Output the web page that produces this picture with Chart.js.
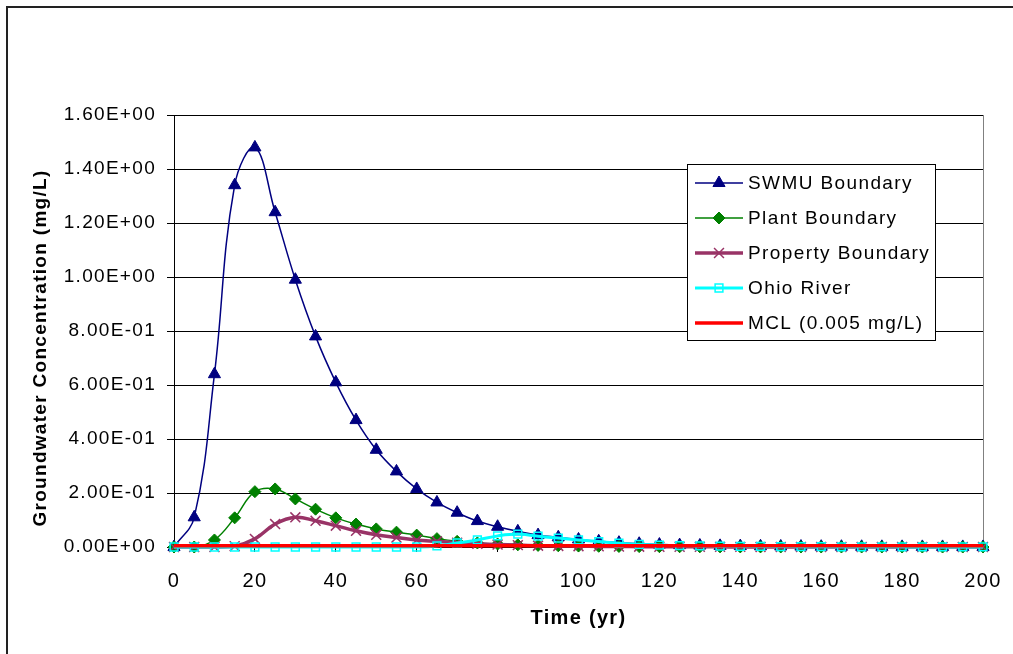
<!DOCTYPE html>
<html>
<head>
<meta charset="utf-8">
<script src="https://cdn.jsdelivr.net/npm/chart.js@4/dist/chart.umd.min.js"></script>
<style>
  html, body { margin: 0; padding: 0; background: #fff; }
  #wrap { position: relative; width: 1013px; height: 654px; }
</style>
</head>
<body>
<div id="wrap"><canvas id="grafico" width="1013" height="654"></canvas></div>
<script>
// time (yr)
const tiempos = [0, 5, 10, 15, 20, 25, 30, 35, 40, 45, 50, 55, 60, 65, 70, 75, 80, 85, 90, 95, 100,
    105, 110, 115, 120, 125, 130, 135, 140, 145, 150, 155, 160, 165, 170, 175, 180, 185, 190, 195, 200];

const swmu = [0, 0.11, 0.64, 1.34, 1.48, 1.24, 0.99, 0.78, 0.61, 0.47, 0.36, 0.28, 0.215, 0.165, 0.127, 0.096,
    0.075, 0.058, 0.044, 0.036, 0.028, 0.021, 0.016, 0.012, 0.009, 0.007, 0.0055, 0.0042, 0.0033, 0.0026,
    0.002, 0.0016, 0.0012, 0.001, 0.0008, 0.0006, 0.0005, 0.0004, 0.0003, 0.0003, 0.0002];
const plant = [0, 0, 0.026, 0.108, 0.205, 0.215, 0.178, 0.14, 0.108, 0.085, 0.067, 0.055, 0.044, 0.031, 0.021,
    0.015, 0.011, 0.008, 0.006, 0.0045, 0.0035, 0.0027, 0.002, 0.0015, 0.0012, 0.0009, 0.0007, 0.0005, 0.0004,
    0.0003, 0.0002, 0.0002, 0.0001, 0.0001, 0.0001, 0.0001, 0, 0, 0, 0, 0];
const property = [0, 0, 0, 0.003, 0.03, 0.085, 0.11, 0.097, 0.079, 0.06, 0.045, 0.035, 0.026, 0.021, 0.016,
    0.012, 0.009, 0.007, 0.005, 0.004, 0.003, 0.0023, 0.0017, 0.0013, 0.001, 0.0008, 0.0006, 0.0005, 0.0004,
    0.0003, 0.0002, 0.0002, 0.0001, 0.0001, 0.0001, 0, 0, 0, 0, 0, 0];
const ohio = [0, 0, 0, 0, 0, 0, 0, 0, 0, 0, 0, 0, 0, 0.004, 0.015, 0.026, 0.041, 0.048, 0.04, 0.033, 0.026,
    0.02, 0.014, 0.01, 0.007, 0.005, 0.004, 0.003, 0.0025, 0.002, 0.0016, 0.0013, 0.001, 0.0008, 0.0007,
    0.0006, 0.0005, 0.0004, 0.0003, 0.0003, 0.0002];
// MCL is a flat reference line
const mclTiempos = [0, 200];
const mcl = [0.005, 0.005];

const yTicks = [0, 0.2, 0.4, 0.6, 0.8, 1.0, 1.2, 1.4, 1.6];
const xTicks = [0, 20, 40, 60, 80, 100, 120, 140, 160, 180, 200];
const tituloY = 'Groundwater Concentration (mg/L)';

const puntos = (xs, ys) => xs.map((x, i) => ({ x: x, y: ys[i] }));

const formatoExp = v => {
    if (Math.abs(v) < 1e-12) return '0.00E+00';
    let e = Math.floor(Math.log10(Math.abs(v)) + 1e-9);
    let m = v / Math.pow(10, e);
    if (Math.abs(m) >= 9.995) { m = m / 10; e++; }
    const signo = e < 0 ? '-' : '+';
    return m.toFixed(2) + 'E' + signo + String(Math.abs(e)).padStart(2, '0');
}

Chart.defaults.font.family = '"Liberation Sans", Arial, sans-serif';
Chart.defaults.color = '#000';

// marco exterior, borde derecho del area de trazado y titulo del eje Y
const marco = {
    id: 'marco',
    beforeDraw(chart) {
        const ctx = chart.ctx;
        ctx.save();
        ctx.fillStyle = '#fff';
        ctx.fillRect(0, 0, chart.width, chart.height);
        ctx.strokeStyle = '#222';
        ctx.lineWidth = 2;
        ctx.beginPath();
        ctx.moveTo(7, chart.height);
        ctx.lineTo(7, 7);
        ctx.lineTo(chart.width, 7);
        ctx.stroke();
        ctx.restore();
        // texto algo espaciado, como en el original
        ctx.letterSpacing = '1.3px';
    },
    beforeDatasetsDraw(chart) {
        const a = chart.chartArea;
        const ctx = chart.ctx;
        ctx.save();
        ctx.strokeStyle = '#808080';
        ctx.lineWidth = 1;
        ctx.beginPath();
        ctx.moveTo(Math.round(a.right) + 0.5, a.top);
        ctx.lineTo(Math.round(a.right) + 0.5, a.bottom);
        ctx.stroke();
        // titulo del eje Y
        ctx.translate(41, 348);
        ctx.rotate(-Math.PI / 2);
        ctx.fillStyle = '#000';
        ctx.font = 'bold 19px "Liberation Sans", Arial, sans-serif';
        ctx.letterSpacing = '1.3px';
        ctx.textAlign = 'center';
        ctx.textBaseline = 'middle';
        ctx.fillText(tituloY, 0, 0);
        ctx.restore();
    }
};

// leyenda dentro del area de trazado, con recuadro
const leyenda = {
    id: 'leyenda',
    afterDraw(chart) {
        const ctx = chart.ctx;
        const caja = { x: 687.5, y: 164.5, w: 248, h: 176 };
        ctx.save();
        ctx.fillStyle = '#fff';
        ctx.fillRect(caja.x, caja.y, caja.w, caja.h);
        ctx.strokeStyle = '#000';
        ctx.lineWidth = 1;
        ctx.strokeRect(caja.x, caja.y, caja.w, caja.h);
        const filas = [183, 218, 253, 288, 323];
        chart.data.datasets.forEach((d, i) => {
            const y = filas[i];
            ctx.strokeStyle = d.borderColor;
            ctx.lineWidth = d.borderWidth;
            ctx.beginPath();
            ctx.moveTo(695, y);
            ctx.lineTo(743, y);
            ctx.stroke();
            if (d.pointRadius > 0) {
                ctx.fillStyle = d.pointBackgroundColor;
                ctx.strokeStyle = d.pointBorderColor;
                ctx.lineWidth = d.pointBorderWidth;
                Chart.helpers.drawPoint(ctx, {
                    pointStyle: d.pointStyle,
                    radius: d.pointRadius,
                    rotation: 0,
                    borderWidth: d.pointBorderWidth
                }, 719, y);
            }
            ctx.fillStyle = '#000';
            ctx.font = '19px "Liberation Sans", Arial, sans-serif';
            ctx.letterSpacing = '1.4px';
            ctx.textBaseline = 'middle';
            ctx.textAlign = 'left';
            ctx.fillText(d.label, 748, y + 1);
        });
        ctx.restore();
    }
};

const ctx = document.getElementById('grafico');

const config = {
    type: 'line',
    data: {
        datasets: [{
                label: 'SWMU Boundary',
                data: puntos(tiempos, swmu),
                borderColor: '#000080',
                borderWidth: 1.5,
                pointStyle: 'triangle',
                pointRadius: 7,
                pointBackgroundColor: '#000080',
                pointBorderColor: '#000080',
                pointBorderWidth: 1,
                tension: 0.4,
                clip: false,
                order: 4
            },
            {
                label: 'Plant Boundary',
                data: puntos(tiempos, plant),
                borderColor: '#008000',
                borderWidth: 1.5,
                pointStyle: 'rectRot',
                pointRadius: 6,
                pointBackgroundColor: '#008000',
                pointBorderColor: '#008000',
                pointBorderWidth: 1,
                tension: 0.4,
                clip: false,
                order: 3
            },
            {
                label: 'Property Boundary',
                data: puntos(tiempos, property),
                borderColor: '#993366',
                borderWidth: 3.5,
                pointStyle: 'crossRot',
                pointRadius: 7,
                pointBackgroundColor: '#993366',
                pointBorderColor: '#993366',
                pointBorderWidth: 1.5,
                tension: 0.4,
                clip: false,
                order: 2
            },
            {
                label: 'Ohio River',
                data: puntos(tiempos, ohio),
                borderColor: '#00FFFF',
                borderWidth: 3,
                pointStyle: 'rect',
                pointRadius: 5.5,
                pointBackgroundColor: 'rgba(0,0,0,0)',
                pointBorderColor: '#00FFFF',
                pointBorderWidth: 1.5,
                tension: 0.4,
                clip: false,
                order: 1
            },
            {
                label: 'MCL (0.005 mg/L)',
                data: puntos(mclTiempos, mcl),
                borderColor: '#FF0000',
                borderWidth: 3.5,
                pointRadius: 0,
                pointBackgroundColor: '#FF0000',
                pointBorderColor: '#FF0000',
                pointBorderWidth: 0,
                tension: 0,
                clip: false,
                order: 0
            }
        ]
    },
    options: {
        responsive: false,
        animation: false,
        layout: {
            padding: { left: 0, top: 115, right: 30, bottom: 0 }
        },
        plugins: {
            legend: { display: false },
            tooltip: { enabled: false },
            title: { display: false }
        },
        scales: {
            x: {
                type: 'linear',
                min: 0,
                max: 200,
                afterBuildTicks: s => { s.ticks = xTicks.map(v => ({ value: v })); },
                afterFit: s => {
                    s.height = 654 - 547;
                    s.paddingLeft = 0;
                    s.paddingRight = 0;
                },
                grid: { drawOnChartArea: false, drawTicks: true, tickLength: 5, color: '#000' },
                border: { color: '#000', width: 1 },
                ticks: { font: { size: 20 }, padding: 17, maxRotation: 0 },
                title: {
                    display: true,
                    text: 'Time (yr)',
                    font: { size: 20, weight: 'bold' },
                    padding: { top: 8, bottom: 24 }
                }
            },
            y: {
                min: 0,
                max: 1.6,
                afterBuildTicks: s => { s.ticks = yTicks.map(v => ({ value: v })); },
                afterFit: s => {
                    s.width = 174;
                    s.paddingTop = 0;
                    s.paddingBottom = 0;
                },
                grid: { color: '#000', lineWidth: 1, tickLength: 7, drawTicks: true },
                border: { color: '#000', width: 1 },
                ticks: {
                    font: { size: 19 },
                    padding: 11,
                    callback: v => formatoExp(v)
                },
                title: { display: false }
            }
        }
    },
    plugins: [marco, leyenda]
};

window.chartConc = new Chart(ctx, config);
</script>
</body>
</html>
